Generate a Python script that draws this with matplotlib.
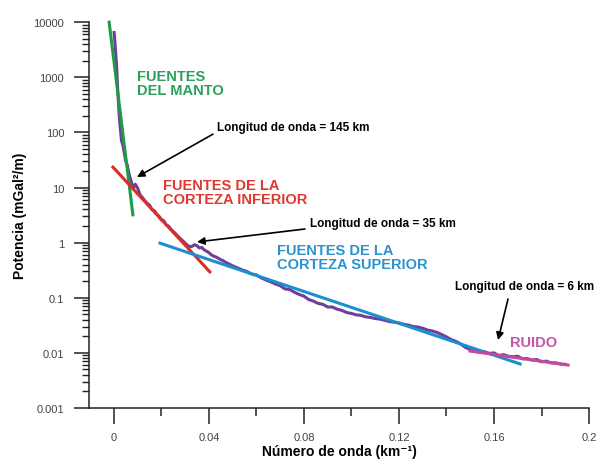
import matplotlib
matplotlib.use('Agg')
import matplotlib.pyplot as plt
from matplotlib.ticker import LogLocator, NullFormatter

plt.rcParams['font.family'] = ['Liberation Sans', 'DejaVu Sans']

# espectro de potencia
numero_onda = [0.0001, 0.0005, 0.0011, 0.0016, 0.0022, 0.0027, 0.0032, 0.0038,
               0.0044, 0.0050, 0.0056, 0.0062, 0.0068, 0.0074, 0.0081, 0.0090,
               0.0100, 0.011, 0.012, 0.013, 0.014, 0.015, 0.016, 0.017, 0.018,
               0.019, 0.020, 0.021, 0.022, 0.023, 0.024, 0.025, 0.026, 0.027,
               0.028, 0.029, 0.030, 0.031, 0.032, 0.033, 0.034, 0.035, 0.036,
               0.037, 0.038, 0.039, 0.040, 0.041, 0.042, 0.043, 0.044, 0.045,
               0.046, 0.047, 0.048, 0.049, 0.050,
               0.052, 0.054, 0.056, 0.058, 0.060, 0.062, 0.064, 0.066, 0.068,
               0.070, 0.072, 0.074, 0.076, 0.078, 0.080, 0.082, 0.084, 0.086,
               0.088, 0.090, 0.092, 0.094, 0.096, 0.098, 0.100, 0.102, 0.104,
               0.106, 0.108, 0.110, 0.112, 0.114, 0.116, 0.118, 0.120, 0.122,
               0.124, 0.126, 0.128, 0.130, 0.132, 0.134, 0.136, 0.138, 0.140,
               0.142, 0.144, 0.146, 0.148, 0.150, 0.152, 0.154, 0.156, 0.158,
               0.160, 0.162, 0.164, 0.166, 0.168, 0.170, 0.172, 0.174, 0.176,
               0.178, 0.180, 0.182, 0.184, 0.186, 0.188, 0.190]
potencia = [6500, 4000, 1740, 600, 214, 120, 71, 58,
            42, 30, 26, 19, 15, 12.5, 9.5, 11.5,
            9.8, 7.4, 6.6, 5.8, 5.2, 4.8, 4.0, 3.8, 3.3,
            3.0, 2.6, 2.5, 2.1, 2.0, 1.75, 1.6, 1.45, 1.30,
            1.18, 1.08, 0.98, 0.90, 0.84, 0.86, 0.92, 0.88, 0.80,
            0.82, 0.74, 0.70, 0.66, 0.60, 0.57, 0.55, 0.52, 0.49,
            0.47, 0.44, 0.42, 0.40, 0.38,
            0.35, 0.32, 0.30, 0.27, 0.26, 0.23, 0.21, 0.195, 0.178,
            0.166, 0.145, 0.141, 0.126, 0.115, 0.107, 0.093, 0.087, 0.079,
            0.076, 0.068, 0.068, 0.062, 0.059, 0.054, 0.052, 0.049, 0.048,
            0.045, 0.044, 0.042, 0.041, 0.039, 0.037, 0.036, 0.035, 0.033,
            0.032, 0.030, 0.0295, 0.028, 0.026, 0.025, 0.0235, 0.0215, 0.0195,
            0.0174, 0.0162, 0.0145, 0.0126, 0.0115, 0.011, 0.0102, 0.0105, 0.0098,
            0.0100, 0.0089, 0.0093, 0.0087, 0.0085, 0.0087, 0.0078, 0.0079, 0.0074,
            0.0076, 0.0069, 0.0071, 0.0066, 0.0066, 0.0063, 0.0062]

# rectas de ajuste
manto_x = [-0.0020, 0.0080]
manto_y = [10000, 3.2]
inferior_x = [-0.0004, 0.0404]
inferior_y = [23.5, 0.295]
superior_x = [0.0194, 0.171]
superior_y = [0.98, 0.0063]
ruido_x = [0.1499, 0.1912]
ruido_y = [0.0108, 0.0060]

ticks_x = [0, 0.04, 0.08, 0.12, 0.16, 0.2]
etiq_x = ['0', '0.04', '0.08', '0.12', '0.16', '0.2']
ticks_x_menor = [0.02, 0.06, 0.10, 0.14, 0.18]
ticks_y = [0.001, 0.01, 0.1, 1, 10, 100, 1000, 10000]
etiq_y = ['0.001', '0.01', '0.1', '1', '10', '100', '1000', '10000']

fig = plt.figure(figsize=(6.05, 4.64), dpi=100)
ax = fig.add_axes([0.147, 0.1185, 0.8266, 0.8315])

ax.plot(numero_onda, potencia, color='#6e3f98', lw=2.2, zorder=2)
ax.plot(manto_x, manto_y, color='#1e9a48', lw=2.2, zorder=3, clip_on=False)
ax.plot(inferior_x, inferior_y, color='#dd2c25', lw=2.2, zorder=3)
ax.plot(superior_x, superior_y, color='#1b8fd0', lw=2.2, zorder=3)
ax.plot(ruido_x, ruido_y, color='#c44a9e', lw=2.2, zorder=3)

ax.set_yscale('log')
ax.set_ylim(0.001, 10000)
ax.set_xlim(-0.0105, 0.2)
ax.set_yticks(ticks_y)
ax.set_yticklabels(etiq_y)
ax.yaxis.set_minor_locator(LogLocator(base=10, subs=range(2, 10)))
ax.yaxis.set_minor_formatter(NullFormatter())
ax.set_xticks(ticks_x)
ax.set_xticklabels(etiq_x)
ax.set_xticks(ticks_x_menor, minor=True)

for s in ['top', 'right']:
    ax.spines[s].set_visible(False)
for s in ['left', 'bottom']:
    ax.spines[s].set_linewidth(1.1)
    ax.spines[s].set_color('#222222')

ax.tick_params(axis='x', which='major', direction='out', length=11.5, width=1.1,
               pad=6, labelsize=8, labelcolor='#444444', color='#222222')
ax.tick_params(axis='x', which='minor', direction='out', length=5.8, width=1.1, color='#222222')
ax.tick_params(axis='y', which='major', direction='out', length=10.8, width=1.1,
               pad=7, labelsize=8, labelcolor='#444444', color='#222222')
ax.tick_params(axis='y', which='minor', direction='out', length=5, width=1.0, color='#222222')

ax.set_xlabel('Número de onda (km⁻¹)', fontsize=10, fontweight='bold', labelpad=1)
ax.set_ylabel('Potencia (mGal²/m)', fontsize=10, fontweight='bold', labelpad=5)

# textos de las fuentes
ax.text(0.0097, 1400, 'FUENTES\nDEL MANTO', color='#2aa05a', fontsize=10.5,
        fontweight='bold', va='top', linespacing=1.0)
ax.text(0.0206, 15, 'FUENTES DE LA\nCORTEZA INFERIOR', color='#e0382e', fontsize=10.5,
        fontweight='bold', va='top', linespacing=1.0)
ax.text(0.0686, 1.0, 'FUENTES DE LA\nCORTEZA SUPERIOR', color='#2a93cf', fontsize=10.5,
        fontweight='bold', va='top', linespacing=1.0)
ax.text(0.1667, 0.0158, 'RUIDO', color='#c456a3', fontsize=10.5,
        fontweight='bold', va='center')

# longitudes de onda
flecha = dict(arrowstyle='-|>', color='black', lw=1.2, mutation_scale=11, shrinkA=0, shrinkB=0)
ax.text(0.0434, 125, 'Longitud de onda = 145 km', fontsize=8.5, fontweight='bold', va='center')
ax.annotate('', xy=(0.0097, 15.5), xytext=(0.0417, 93), arrowprops=flecha)
ax.text(0.0825, 2.27, 'Longitud de onda = 35 km', fontsize=8.5, fontweight='bold', va='center')
ax.annotate('', xy=(0.035, 1.03), xytext=(0.0804, 1.77), arrowprops=flecha)
ax.text(0.1436, 0.163, 'Longitud de onda = 6 km', fontsize=8.5, fontweight='bold', va='center')
ax.annotate('', xy=(0.1617, 0.0171), xytext=(0.1659, 0.095), arrowprops=flecha)

fig.savefig('out.png', dpi=100)
